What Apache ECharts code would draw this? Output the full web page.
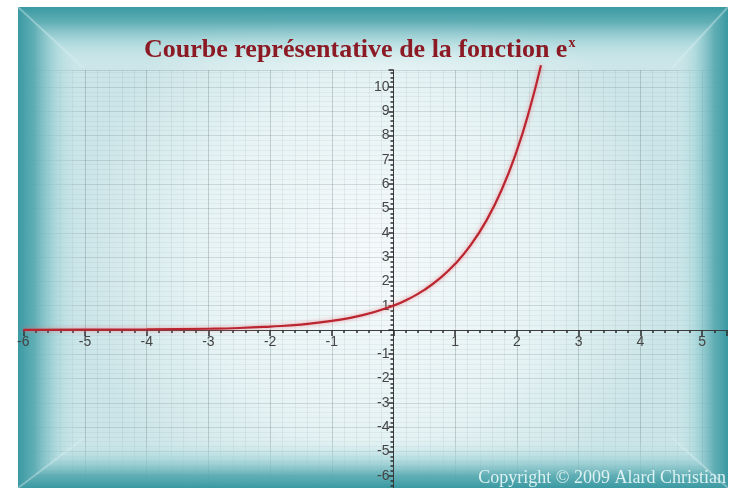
<!DOCTYPE html>
<html>
<head>
<meta charset="utf-8">
<script src="https://cdn.jsdelivr.net/npm/echarts@6/dist/echarts.min.js"></script>
<style>
  body { margin: 0; background: #fff; }
  #chart { width: 732px; height: 488px; }
</style>
</head>
<body>
<div id="chart"></div>
<script>
  'use strict'
  /*----- values -----*/
  var xValues = [-6, -5, -4, -3, -2.5, -2, -1.5, -1, -0.5, 0, 0.25, 0.5, 0.75, 1, 1.25, 1.5, 1.75, 2, 2.2, 2.39];
  var yValues = [0.00, 0.01, 0.02, 0.05, 0.08, 0.14, 0.22, 0.37, 0.61, 1.00, 1.28, 1.65, 2.12, 2.72, 3.49, 4.48, 5.75, 7.39, 9.03, 10.9];
  var xTicks = [-6, -5, -4, -3, -2, -1, 1, 2, 3, 4, 5];
  var yTicks = [-6, -5, -4, -3, -2, -1, 1, 2, 3, 4, 5, 6, 7, 8, 9, 10];

  var curve = [];
  for (var i = 0; i < xValues.length; i++) {
    curve.push([xValues[i], yValues[i]]);
  }

  function tickLabel(list) {
    return function (v) {
      for (var k = 0; k < list.length; k++) {
        if (Math.abs(list[k] - v) < 1e-6) return String(list[k]);
      }
      return '';
    };
  }

  var xMin = -6, xMax = 5.4, yMin = -7, yMax = 10.7;
  var gridBox = { left: 23.3, top: 70, width: 703.4, height: 430 };
  // axes drawn through the origin: shift them from the grid edge to zero
  var unitX = gridBox.width / (xMax - xMin);
  var unitY = gridBox.height / (yMax - yMin);
  var xAxisOffset = -(0 - yMin) * unitY;
  var yAxisOffset = -(0 - xMin) * unitX;

  var teal = '#3a99a2';
  function frameFill(x, y, x2, y2) {
    return new echarts.graphic.LinearGradient(x, y, x2, y2, [
      { offset: 0, color: teal },
      { offset: 0.25, color: 'rgba(88,170,177,0.92)' },
      { offset: 0.6, color: 'rgba(160,212,216,0.6)' },
      { offset: 1, color: 'rgba(214,237,239,0)' }
    ]);
  }

  var option = {
    animation: false,
    title: {
      text: '{a|Courbe représentative de la fonction e}{s|x}',
      left: 139,
      top: 31,
      z: 10,
      textStyle: {
        rich: {
          a: { fontFamily: 'Liberation Serif', fontWeight: 'bold', fontSize: 26, color: '#8b1a24' },
          s: { fontFamily: 'Liberation Serif', fontWeight: 'bold', fontSize: 14, color: '#8b1a24', padding: [0, 0, 14, 1] }
        }
      }
    },
    grid: {
      left: gridBox.left,
      top: gridBox.top,
      width: gridBox.width,
      height: gridBox.height,
      containLabel: false,
      outerBoundsMode: 'none'
    },
    xAxis: [
      {
        /* grid paper */
        type: 'value', min: xMin, max: xMax, interval: 1, z: 0,
        position: 'bottom',
        axisLine: { show: false }, axisTick: { show: false }, axisLabel: { show: false },
        splitLine: { show: true, lineStyle: { color: 'rgba(100,115,120,0.3)', width: 1 } },
        minorTick: { show: false, splitNumber: 5 },
        minorSplitLine: { show: true, lineStyle: { color: 'rgba(100,120,125,0.1)', width: 1 } }
      },
      {
        type: 'value', min: xMin, max: xMax, interval: 1, z: 3,
        position: 'bottom',
        offset: xAxisOffset,
        axisLine: { show: true, onZero: false, lineStyle: { color: '#3c3c3c', width: 1 } },
        axisTick: { show: true, length: 6, lineStyle: { color: '#2e2e2e', width: 1.5 } },
        minorTick: { show: true, splitNumber: 5, length: 3, lineStyle: { color: '#2e2e2e', width: 1.5 } },
        axisLabel: { formatter: tickLabel(xTicks), fontSize: 14, color: '#444', margin: 5, fontFamily: 'Liberation Sans' },
        splitLine: { show: false }
      }
    ],
    yAxis: [
      {
        type: 'value', min: yMin, max: yMax, interval: 1, z: 0,
        position: 'left',
        axisLine: { show: false }, axisTick: { show: false }, axisLabel: { show: false },
        splitLine: { show: true, lineStyle: { color: 'rgba(100,115,120,0.22)', width: 1 } },
        minorTick: { show: false, splitNumber: 5 },
        minorSplitLine: { show: true, lineStyle: { color: 'rgba(100,120,125,0.08)', width: 1 } }
      },
      {
        type: 'value', min: yMin, max: yMax, interval: 1, z: 3,
        position: 'left',
        offset: yAxisOffset,
        axisLine: { show: true, onZero: false, lineStyle: { color: '#3c3c3c', width: 1 } },
        axisTick: { show: true, length: 5, lineStyle: { color: '#2e2e2e', width: 1.5 } },
        minorTick: { show: true, splitNumber: 5, length: 3, lineStyle: { color: '#2e2e2e', width: 1.5 } },
        axisLabel: { formatter: tickLabel(yTicks), fontSize: 14, color: '#444', margin: 4, fontFamily: 'Liberation Sans' },
        splitLine: { show: false }
      }
    ],
    series: [
      {
        name: 'exp',
        type: 'line',
        xAxisIndex: 1,
        yAxisIndex: 1,
        smooth: true,
        showSymbol: false,
        symbol: 'none',
        clip: false,
        z: 5,
        data: curve,
        lineStyle: {
          color: '#bb2530',
          width: 2.2,
          shadowColor: 'rgba(235,110,120,0.7)',
          shadowBlur: 4
        }
      }
    ],
    graphic: [
      /*----- picture frame -----*/
      {
        type: 'rect', z: -10,
        shape: { x: 18, y: 7, width: 710, height: 481 },
        style: {
          fill: new echarts.graphic.RadialGradient(0.5, 0.52, 0.62, [
            { offset: 0, color: '#f5fafb' },
            { offset: 0.6, color: '#e6f3f4' },
            { offset: 1, color: '#cbe5e8' }
          ])
        }
      },
      { type: 'polygon', z: 1, shape: { points: [[18, 7], [84, 68], [84, 438], [18, 488]] }, style: { fill: frameFill(0, 0, 1, 0) } },
      { type: 'polygon', z: 1, shape: { points: [[18, 7], [728, 7], [672, 68], [84, 68]] }, style: { fill: frameFill(0, 0, 0, 1) } },
      { type: 'polygon', z: 1, shape: { points: [[728, 7], [728, 488], [672, 438], [672, 68]] }, style: { fill: frameFill(1, 0, 0, 0) } },
      { type: 'polygon', z: 1, shape: { points: [[18, 488], [84, 438], [672, 438], [728, 488]] }, style: { fill: frameFill(0, 1, 0, 0) } },
      { type: 'line', z: 1, shape: { x1: 18, y1: 7, x2: 84, y2: 68 }, style: { stroke: 'rgba(225,245,246,0.3)', lineWidth: 2 } },
      { type: 'line', z: 1, shape: { x1: 728, y1: 7, x2: 672, y2: 68 }, style: { stroke: 'rgba(225,245,246,0.3)', lineWidth: 2 } },
      { type: 'line', z: 1, shape: { x1: 18, y1: 488, x2: 84, y2: 438 }, style: { stroke: 'rgba(225,245,246,0.3)', lineWidth: 2 } },
      { type: 'line', z: 1, shape: { x1: 728, y1: 488, x2: 672, y2: 438 }, style: { stroke: 'rgba(225,245,246,0.3)', lineWidth: 2 } },
      {
        type: 'text', z: 10,
        style: {
          x: 726, y: 478,
          text: 'Copyright © 2009 Alard Christian',
          fill: '#dcf1f1',
          font: '18px "Liberation Serif"',
          textAlign: 'right',
          textVerticalAlign: 'middle'
        }
      }
    ]
  };

  var chart = echarts.init(document.getElementById('chart'));
  chart.setOption(option);
</script>
</body>
</html>
